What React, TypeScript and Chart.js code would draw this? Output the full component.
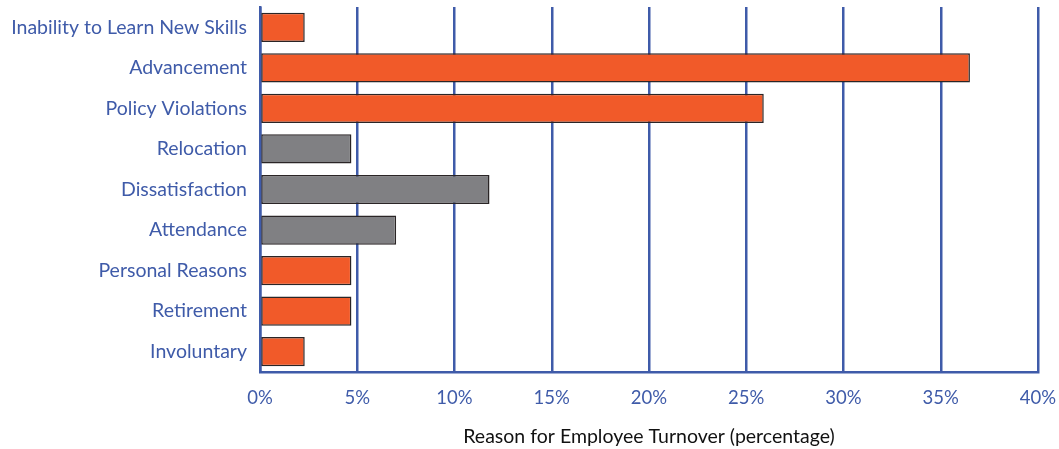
import React, { useEffect, useRef } from "react";
import { Chart, registerables } from "chart.js";

Chart.register(...registerables);

const categories = [
  "Inability to Learn New Skills",
  "Advancement",
  "Policy Violations",
  "Relocation",
  "Dissatisfaction",
  "Attendance",
  "Personal Reasons",
  "Retirement",
  "Involuntary",
];
const values = [2.3, 36.5, 25.9, 4.7, 11.8, 7.0, 4.7, 4.7, 2.3];
const barColors = [
  "#F15A29", "#F15A29", "#F15A29",
  "#808083", "#808083", "#808083",
  "#F15A29", "#F15A29", "#F15A29",
];
const xTicks = [0, 5, 10, 15, 20, 25, 30, 35, 40];
const xTitle = "Reason for Employee Turnover (percentage)";

const BLUE = "#3F5BA9";
const FONT = "Lato";

export default function App() {
  const ref = useRef<HTMLCanvasElement>(null);
  useEffect(() => {
    document.body.style.margin = "0";
    const chart = new Chart(ref.current!, {
      type: "bar",
      data: {
        labels: categories,
        datasets: [
          {
            data: values,
            backgroundColor: barColors,
            borderColor: "#2a2526",
            borderWidth: 1.5,
            borderSkipped: false,
            categoryPercentage: 1,
            barPercentage: 0.72,
          },
        ],
      },
      options: {
        indexAxis: "y",
        animation: false,
        responsive: false,
        devicePixelRatio: 1,
        layout: { padding: { top: 7, right: 21, left: 0, bottom: 0 } },
        plugins: { legend: { display: false }, tooltip: { enabled: false } },
        scales: {
          x: {
            min: 0,
            max: 40,
            afterBuildTicks: (axis: any) => {
              axis.ticks = xTicks.map((v) => ({ value: v }));
            },
            afterFit: (axis: any) => {
              axis.height = 77;
              axis.paddingLeft = 0;
              axis.paddingRight = 0;
            },
            grid: { color: BLUE, lineWidth: 2.5, drawTicks: false },
            border: { display: true, color: BLUE, width: 2.5 },
            ticks: {
              color: BLUE,
              font: { family: FONT, size: 18.5 },
              padding: 15,
              maxRotation: 0,
              callback: (v: any) => v + "%",
            },
            title: {
              display: true,
              text: xTitle,
              color: "#111",
              font: { family: FONT, size: 19.5 },
              padding: { top: 10, bottom: 1 },
            },
          },
          y: {
            afterFit: (axis: any) => {
              axis.width = 260;
              axis.paddingTop = 0;
              axis.paddingBottom = 0;
            },
            grid: { display: false, drawTicks: false },
            border: { display: true, color: BLUE, width: 2.5 },
            ticks: {
              color: BLUE,
              font: { family: FONT, size: 19.5 },
              padding: 13,
            },
          },
        },
      },
    });
    return () => chart.destroy();
  }, []);
  return (
    <div style={{ width: 1059, height: 449 }}>
      <canvas ref={ref} width={1059} height={449} />
    </div>
  );
}
